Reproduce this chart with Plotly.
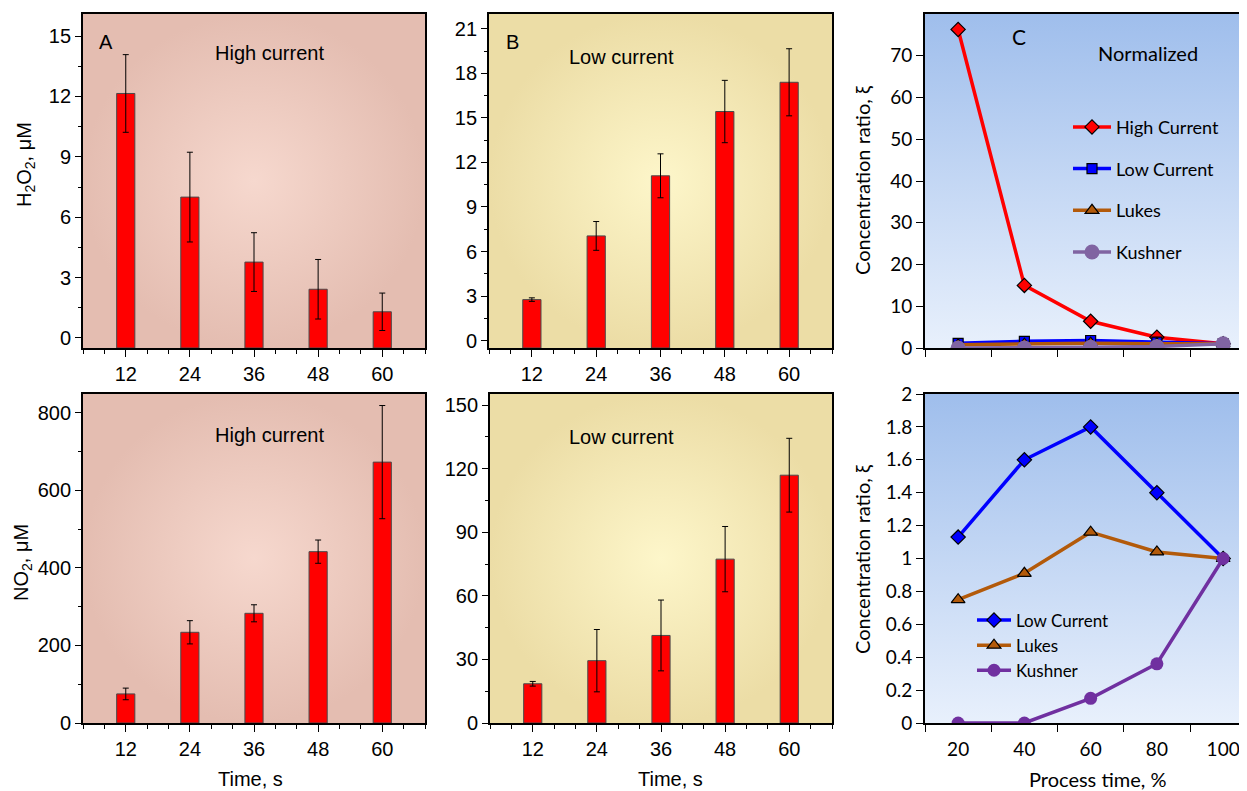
import plotly.graph_objects as go

W, H = 1247, 791
OFF = 8  # page body margin offset of the figure inside the browser window

# ---------------- data ----------------
time_s = [12, 24, 36, 48, 60]
h2o2_high = [12.15, 7.0, 3.77, 2.42, 1.30]
h2o2_high_err = [1.93, 2.23, 1.46, 1.48, 0.93]
h2o2_low = [2.76, 7.05, 11.1, 15.43, 17.4]
h2o2_low_err = [0.12, 0.97, 1.48, 2.1, 2.26]
no2_high = [75, 234, 283, 442, 673]
no2_high_err = [15, 30, 22, 30, 146]
no2_low = [18.5, 29.4, 41.3, 77.3, 116.9]
no2_low_err = [1.1, 14.7, 16.7, 15.4, 17.4]

process_pct = [20, 40, 60, 80, 100]
ratio_high = [76.3, 15.0, 6.4, 2.6, 1.0]
ratio_low = [1.13, 1.6, 1.8, 1.4, 1.0]
ratio_lukes = [0.75, 0.91, 1.16, 1.04, 1.0]
ratio_kushner = [0.0, 0.0, 0.15, 0.36, 1.0]

ratio_ticks_top = [0, 10, 20, 30, 40, 50, 60, 70]

# ---------------- styling ----------------
ARIAL = "Liberation Sans, Arial, sans-serif"
CALI = "Lato, Open Sans, sans-serif"
RED = "#FF0000"
BLUE = "#0000FF"
BROWN = "#B35A0A"
PURPLE_L = "#8064A2"
PURPLE_D = "#7030A0"

PINK = [[0, "#F6D8CE"], [1, "#E4BDB1"]]
YELLOW = [[0, "#FDF6CA"], [1, "#ECDDA6"]]
BLUEG = [[0, "#E8F0FC"], [1, "#9FBEEC"]]

# panel boxes in window pixels: (x0, x1, ytop, ybottom)
boxes = [
    (83, 425, 14, 348),     # A top
    (489, 832, 14, 348),    # B top
    (925, 1247, 14, 348),   # C top
    (83, 425, 393.5, 723),  # A bottom
    (490, 832, 394, 723),   # B bottom
    (925, 1247, 394, 723),  # C bottom
]
bgs = [("radial", PINK), ("radial", YELLOW), ("vertical", BLUEG),
       ("radial", PINK), ("radial", YELLOW), ("vertical", BLUEG)]

FW, FH = W - OFF, H - OFF


def px_x(p):
    return (p - OFF) / FW


def px_y(p):
    return 1 - (p - OFF) / FH


fig = go.Figure()
layout = {}

# background panels on base axes 1..6
for i, ((x0, x1, yt, yb), (gtype, cs)) in enumerate(zip(boxes, bgs), start=1):
    xa = "x" if i == 1 else f"x{i}"
    ya = "y" if i == 1 else f"y{i}"
    fig.add_trace(go.Scatter(
        x=[0, 1, 1, 0, 0], y=[0, 0, 1, 1, 0], mode="lines", fill="toself",
        fillgradient=dict(type=gtype, colorscale=cs), line=dict(width=0),
        hoverinfo="skip", showlegend=False, xaxis=xa, yaxis=ya))
    layout["xaxis" if i == 1 else f"xaxis{i}"] = dict(
        domain=[px_x(x0), min(1, px_x(x1))], range=[0, 1], visible=False,
        fixedrange=True, anchor=ya, automargin=False)
    layout["yaxis" if i == 1 else f"yaxis{i}"] = dict(
        domain=[px_y(yb), px_y(yt)], range=[0, 1], visible=False, fixedrange=True,
        anchor=xa, automargin=False)

# ---------------- bar panels ----------------
bar_base_top = -0.5
bar_sets = [
    (7, h2o2_high, h2o2_high_err, [-0.5, 16.1], 3, 1.5, bar_base_top),
    (8, h2o2_low, h2o2_low_err, [-0.5, 22.0], 3, 1.5, bar_base_top),
    (10, no2_high, no2_high_err, [0, 850], 200, 100, 0),
    (11, no2_low, no2_low_err, [0, 155.2], 30, 15, 0),
]
for idx, vals, errs, yr, dt, mdt, base in bar_sets:
    bi = idx - 6
    fig.add_trace(go.Bar(
        x=time_s, y=[v - base for v in vals], base=base, width=3.4,
        marker=dict(color=RED, line=dict(color="#4a4a4a", width=1)),
        error_y=dict(type="data", array=errs, color="black", thickness=1, width=3),
        showlegend=False, xaxis=f"x{idx}", yaxis=f"y{idx}"))
    basex = "x" if bi == 1 else f"x{bi}"
    basey = "y" if bi == 1 else f"y{bi}"
    layout[f"xaxis{idx}"] = dict(
        overlaying=basex, anchor=f"y{idx}", range=[4, 68], tick0=0, dtick=12,
        ticks="outside", ticklen=7, tickwidth=1.3, tickcolor="black",
        minor=dict(tick0=0, dtick=4, ticks="outside", ticklen=4, tickcolor="black"),
        showline=True, linecolor="black", linewidth=1.8, mirror=True,
        showgrid=False, zeroline=False, fixedrange=True, automargin=False,
        tickfont=dict(family=ARIAL, size=20, color="black"))
    layout[f"yaxis{idx}"] = dict(
        overlaying=basey, anchor=f"x{idx}", range=yr, tick0=0, dtick=dt,
        ticks="outside", ticklen=6, tickwidth=1.3, tickcolor="black",
        minor=dict(tick0=0, dtick=mdt, ticks="outside", ticklen=3, tickcolor="black"),
        showline=True, linecolor="black", linewidth=1.8, mirror=True,
        showgrid=False, zeroline=False, fixedrange=True, automargin=False,
        tickfont=dict(family=ARIAL, size=20, color="black"))

# ---------------- ratio panels ----------------
def add_line(name, yv, color, symbol, msize, idx, legend, group, mlw=1.2):
    fig.add_trace(go.Scatter(
        x=process_pct, y=yv, name=name, mode="lines+markers",
        line=dict(color=color, width=3.5),
        marker=dict(symbol=symbol, size=msize, color=color,
                    line=dict(color="black", width=mlw)),
        xaxis=f"x{idx}", yaxis=f"y{idx}", legend=legend, legendgroup=group))


add_line("High Current", ratio_high, RED, "diamond", 11, 9, "legend", "g1")
add_line("Low Current", ratio_low, BLUE, "square", 10, 9, "legend", "g2")
add_line("Lukes", ratio_lukes, BROWN, "triangle-up", 12, 9, "legend", "g3")
add_line("Kushner", ratio_kushner, PURPLE_L, "circle", 15, 9, "legend", "g4", mlw=0)

add_line("Low Current", ratio_low, BLUE, "diamond", 11, 12, "legend2", "h1")
add_line("Lukes", ratio_lukes, BROWN, "triangle-up", 12, 12, "legend2", "h2")
add_line("Kushner", ratio_kushner, PURPLE_D, "circle", 13, 12, "legend2", "h3", mlw=0)

for idx, yr, yaxis_extra, showlab in [
        (9, [0, 80], dict(tickmode="array", tickvals=ratio_ticks_top), False),
        (12, [0, 2], dict(tick0=0, dtick=0.2), True)]:
    bi = idx - 6
    layout[f"xaxis{idx}"] = dict(
        overlaying=f"x{bi}", anchor=f"y{idx}", range=[10, 107.2],
        tickvals=process_pct, ticks="outside", ticklen=8, tickcolor="rgba(0,0,0,0)",
        showticklabels=showlab,
        minor=dict(tick0=10, dtick=20, ticks="outside", ticklen=7, tickcolor="black",
                   tickwidth=1),
        showline=True, linecolor="black", linewidth=2, mirror=True,
        showgrid=False, zeroline=False, fixedrange=True, automargin=False,
        tickfont=dict(family=CALI, size=19, color="black"))
    layout[f"yaxis{idx}"] = dict(
        overlaying=f"y{bi}", anchor=f"x{idx}", range=yr,
        ticks="outside", ticklen=7, tickwidth=1.2, tickcolor="black",
        showline=True, linecolor="black", linewidth=2, mirror=False,
        showgrid=False, zeroline=False, fixedrange=True, automargin=False,
        tickfont=dict(family=CALI, size=19, color="black"), **yaxis_extra)

# ---------------- annotations ----------------
def ann(text, x, y, size=20, family=ARIAL, angle=0, xanchor="center", yanchor="middle"):
    return dict(text=text, x=px_x(x), y=px_y(y), xref="paper", yref="paper",
                showarrow=False, textangle=angle, xanchor=xanchor, yanchor=yanchor,
                font=dict(family=family, size=size, color="black"))


annotations = [
    ann("A", 106, 42), ann("High current", 269, 53),
    ann("B", 512, 42), ann("Low current", 621, 57),
    ann("C", 1019, 36, family=CALI, size=21), ann("Normalized", 1148, 53, family=CALI, size=20),
    ann("High current", 269, 435), ann("Low current", 621, 437),
    ann("H<sub>2</sub>O<sub>2</sub>, μM", 25, 165, angle=-90),
    ann("NO<sub>2</sub>, μM", 22, 563, angle=-90),
    ann("Concentration ratio, ξ", 862, 181, family=CALI, size=20, angle=-90),
    ann("Concentration ratio, ξ", 862, 560, family=CALI, size=20, angle=-90),
    ann("Time, s", 250, 779), ann("Time, s", 670, 779),
    ann("Process time, %", 1097, 779, family=CALI, size=20),
]

fig.update_layout(
    template="none",
    width=FW, height=FH, margin=dict(l=0, r=0, t=0, b=0, pad=0, autoexpand=False),
    paper_bgcolor="white", plot_bgcolor="rgba(0,0,0,0)",
    barmode="overlay", annotations=annotations,
    legend=dict(x=px_x(1068), y=px_y(108.7), xanchor="left", yanchor="top",
                bgcolor="rgba(0,0,0,0)", traceorder="grouped", tracegroupgap=15.3,
                itemwidth=38, font=dict(family=CALI, size=18, color="black")),
    legend2=dict(x=px_x(972), y=px_y(602.5), xanchor="left", yanchor="top",
                 bgcolor="rgba(0,0,0,0)", traceorder="grouped", tracegroupgap=0,
                 itemwidth=34, font=dict(family=CALI, size=17, color="black")),
    **layout,
)

fig.write_html("out.html")
